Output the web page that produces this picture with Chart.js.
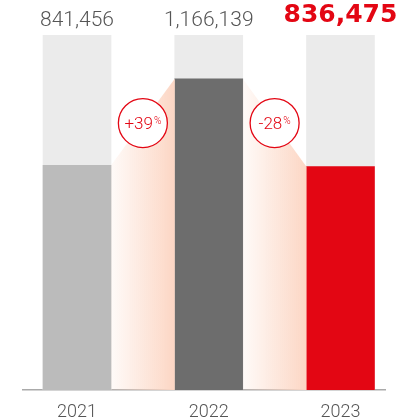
<!DOCTYPE html>
<html><head><meta charset="utf-8">
<script src="https://cdn.jsdelivr.net/npm/chart.js@4/dist/chart.umd.min.js"></script>
<style>html,body{margin:0;padding:0;background:#fff}#wrap{width:400px;height:417px;position:relative}</style>
</head><body><div id="wrap"><canvas id="c"></canvas></div>
<script>
const years = ['2021', '2022', '2023'];
const values = [841456, 1166139, 836475];
const trackValues = [1330000, 1330000, 1330000];
const valueLabels = ['841,456', '1,166,139', '836,475'];
const badgeLevel = 1000000;

const RED = '#e30613';
const barColors = ['#bbbbbb', '#6d6d6d', RED];

const overlayPlugin = {
  id: 'overlay',
  afterDatasetsDraw(chart) {
    const ctx = chart.ctx;
    const meta = chart.getDatasetMeta(1);
    const yScale = chart.scales.y;
    // wedges
    for (let i = 0; i < meta.data.length - 1; i++) {
      const a = meta.data[i], b = meta.data[i + 1];
      const x1 = a.x + a.width / 2, x2 = b.x - b.width / 2;
      const base = a.base;
      const g = ctx.createLinearGradient(x1, 0, x2, 0);
      g.addColorStop(0, 'rgba(252,216,198,0.12)');
      g.addColorStop(1, 'rgba(252,214,196,1)');
      ctx.save();
      ctx.beginPath();
      ctx.moveTo(x1, a.y);
      ctx.lineTo(x2, b.y);
      ctx.lineTo(x2, base);
      ctx.lineTo(x1, base);
      ctx.closePath();
      ctx.fillStyle = g;
      ctx.fill();
      ctx.restore();
    }
    // badges
    for (let i = 0; i < meta.data.length - 1; i++) {
      const a = meta.data[i], b = meta.data[i + 1];
      const x1 = a.x + a.width / 2, x2 = b.x - b.width / 2;
      const cx = (x1 + x2) / 2, cy = yScale.getPixelForValue(badgeLevel);
      ctx.save();
      ctx.beginPath();
      ctx.arc(cx, cy, 24.5, 0, Math.PI * 2);
      ctx.fillStyle = '#ffffff';
      ctx.fill();
      ctx.lineWidth = 1.3;
      ctx.strokeStyle = RED;
      ctx.stroke();
      const pct = Math.round((values[i + 1] / values[i] - 1) * 100);
      const main = (pct > 0 ? '+' : '-') + Math.abs(pct);
      ctx.fillStyle = RED;
      ctx.textBaseline = 'alphabetic';
      ctx.textAlign = 'left';
      ctx.font = '300 17px Roboto';
      const w1 = ctx.measureText(main).width;
      ctx.font = '300 10px Roboto';
      const w2 = ctx.measureText('%').width;
      const sx = cx - (w1 + w2 + 1) / 2;
      ctx.font = '300 17px Roboto';
      ctx.fillText(main, sx, cy + 6);
      ctx.font = '300 10px Roboto';
      ctx.fillText('%', sx + w1 + 1, cy + 1);
      ctx.restore();
    }
    // top value labels
    ctx.save();
    ctx.textAlign = 'center';
    ctx.textBaseline = 'alphabetic';
    meta.data.forEach((bar, i) => {
      if (i === meta.data.length - 1) {
        ctx.font = 'bold 25px "DejaVu Sans"';
        ctx.fillStyle = RED;
        ctx.fillText(valueLabels[i], bar.x, 22);
      } else {
        ctx.font = '300 21px Roboto';
        ctx.fillStyle = '#555555';
        ctx.fillText(valueLabels[i], bar.x, 25.5);
      }
    });
    ctx.restore();
  }
};

new Chart(document.getElementById('c'), {
  type: 'bar',
  data: {
    datasets: [
      {
        data: trackValues.map((v, i) => ({ x: i, y: v })),
        backgroundColor: '#ebebeb',
        order: 2,
        grouped: false,
        barThickness: 68
      },
      {
        data: values.map((v, i) => ({ x: i, y: v })),
        backgroundColor: barColors,
        order: 1,
        grouped: false,
        barThickness: 68
      }
    ]
  },
  options: {
    responsive: true,
    maintainAspectRatio: false,
    animation: false,
    events: [],
    layout: { padding: { top: 35, left: 23, right: 15, bottom: -10.5 } },
    plugins: { legend: { display: false }, tooltip: { enabled: false } },
    scales: {
      x: {
        type: 'linear',
        offset: false,
        min: -0.41,
        max: 2.338,
        afterBuildTicks(scale) { scale.ticks = years.map((_, i) => ({ value: i })); },
        grid: { display: false },
        border: { display: true, color: '#aaaaaa', width: 1.5 },
        ticks: {
          callback: (v) => years[v],
          color: '#555555',
          font: { family: 'Roboto', size: 18, weight: '300' },
          padding: 4,
          maxRotation: 0
        }
      },
      y: {
        display: false,
        min: 0,
        max: 1330000
      }
    }
  },
  plugins: [overlayPlugin]
});
</script>
</body></html>
